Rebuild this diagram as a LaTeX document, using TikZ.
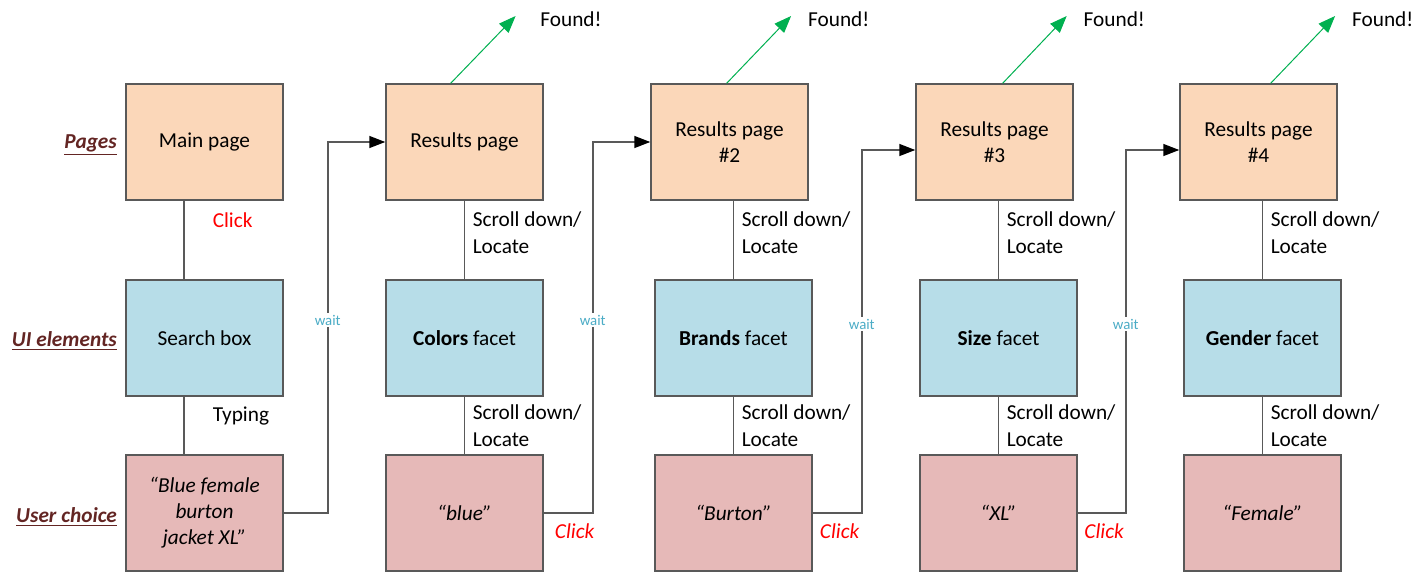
\documentclass[tikz,border=0pt]{standalone}
\usepackage{fontspec}
\setmainfont{Carlito}
\usetikzlibrary{arrows.meta,positioning}

\definecolor{pagefill}{HTML}{FBD7B9}
\definecolor{uifill}{HTML}{B7DDE8}
\definecolor{choicefill}{HTML}{E6B9B8}
\definecolor{rowcolor}{HTML}{632523}
\definecolor{waitblue}{HTML}{4BACC6}
\definecolor{foundgreen}{HTML}{00B050}
\definecolor{linegray}{HTML}{595959}

\newcommand{\boxfont}{\fontsize{10.65}{13}\selectfont}

\tikzset{
  box/.style={draw=linegray, line width=0.75pt, minimum width=78.5pt, minimum height=58pt,
    inner sep=0pt, align=center, font=\boxfont},
  page/.style={box, fill=pagefill},
  ui/.style={box, fill=uifill},
  choice/.style={box, fill=choicefill, font=\boxfont\itshape},
  rowname/.style={inner sep=0pt, text=rowcolor, font=\boxfont\bfseries\itshape},
  link/.style={draw=linegray, line width=0.75pt},
  next/.style={link, -{Triangle[length=8pt,width=6pt,color=black]}},
  steptext/.style={inner sep=0pt, align=left, font=\fontsize{10.65}{13.5}\selectfont},
  clicktext/.style={inner sep=0pt, text=red, font=\boxfont},
  waittext/.style={fill=white, inner sep=1pt, text=waitblue, font=\fontsize{7.4}{9}\selectfont},
  foundtext/.style={anchor=west, inner sep=0pt, font=\boxfont},
  found/.style={draw=foundgreen, line width=0.5pt, -{Triangle[length=8.5pt,width=6.5pt]}}
}

\begin{document}
\begin{tikzpicture}[x=0.5pt, y=-0.5pt]
  \useasboundingbox (0,0) rectangle (1425,573);

  % pages
  \node[page] (main) at (204.5,142) {Main page};
  \node[page] (rp1) at (464.5,142) {Results page};
  \node[page] (rp2) at (729.5,142) {Results page\\\#2};
  \node[page] (rp3) at (994.5,142) {Results page\\\#3};
  \node[page] (rp4) at (1258.5,142) {Results page\\\#4};

  % ui elements
  \node[ui] (search) at (204.5,338) {Search box};
  \node[ui] (colors) at (464.5,338) {\textbf{Colors} facet};
  \node[ui] (brands) at (733.5,338) {\textbf{Brands} facet};
  \node[ui] (size) at (998.5,338) {\textbf{Size} facet};
  \node[ui] (gender) at (1262.5,338) {\textbf{Gender} facet};

  % user choices
  \node[choice] (query) at (204.5,513) {“Blue female\\burton\\jacket XL”};
  \node[choice] (blue) at (464.5,513) {“blue”};
  \node[choice] (burton) at (733.5,513) {“Burton”};
  \node[choice] (xl) at (998.5,513) {“XL”};
  \node[choice] (female) at (1262.5,513) {“Female”};

  % row names
  \node[rowname, left=4pt of main, yshift=-1.5pt] (pages) {\underline{Pages}};
  \node[rowname, left=4pt of search, yshift=-1.5pt] (elements) {\underline{UI elements}};
  \node[rowname, left=4pt of query, yshift=-2pt] (choices) {\underline{User choice}};

  % found
  \node[foundtext] (found1) at (540,19) {Found!};
  \node[foundtext] (found2) at (807.7,19) {Found!};
  \node[foundtext] (found3) at (1083.3,19) {Found!};
  \node[foundtext] (found4) at (1351.7,19) {Found!};

  \draw[found] ([xshift=-6.9pt]rp1.north) -- ([xshift=-12.2pt,yshift=1.5pt]found1.west);
  \draw[found] ([xshift=-1.4pt]rp2.north) -- ([xshift=-8.3pt,yshift=1.5pt]found2.west);
  \draw[found] ([xshift=4.1pt]rp3.north) -- ([xshift=-8.3pt,yshift=1.5pt]found3.west);
  \draw[found] ([xshift=6.1pt]rp4.north) -- ([xshift=-8.3pt,yshift=1.5pt]found4.west);

  % first column
  \draw[link] ([xshift=-10.25pt]main.south) -- node[clicktext, pos=0.25, right=14pt] {Click} ([xshift=-10.25pt]search.north);
  \draw[link] ([xshift=-10.25pt]search.south) -- node[steptext, pos=0.34, right=14pt] {Typing} ([xshift=-10.25pt]query.north);

  % scroll down / locate
  \draw[link] (rp1.south) -- node[steptext, pos=0.41, right=3.75pt] {Scroll down/\\Locate} (colors.north);
  \draw[link] (colors.south) -- node[steptext, pos=0.5, right=3.75pt] {Scroll down/\\Locate} (blue.north);
  \draw[link] (brands.north |- rp2.south) -- node[steptext, pos=0.41, right=3.75pt] {Scroll down/\\Locate} (brands.north);
  \draw[link] (brands.south) -- node[steptext, pos=0.5, right=3.75pt] {Scroll down/\\Locate} (burton.north);
  \draw[link] (size.north |- rp3.south) -- node[steptext, pos=0.41, right=3.75pt] {Scroll down/\\Locate} (size.north);
  \draw[link] (size.south) -- node[steptext, pos=0.5, right=3.75pt] {Scroll down/\\Locate} (xl.north);
  \draw[link] (gender.north |- rp4.south) -- node[steptext, pos=0.41, right=3.75pt] {Scroll down/\\Locate} (gender.north);
  \draw[link] (gender.south) -- node[steptext, pos=0.5, right=3.75pt] {Scroll down/\\Locate} (female.north);

  % wait for next page
  \draw[next] (query.east) -- ++(22pt,0) |- node[waittext, pos=0.26] {wait} (rp1.west);
  \draw[next] (blue.east) -- node[clicktext, pos=0.63, below=5pt, font=\boxfont\itshape] {Click} ++(24.5pt,0)
    |- node[waittext, pos=0.26] {wait} (rp2.west);
  \draw[next] (burton.east) -- node[clicktext, pos=0.55, below=5pt, font=\boxfont\itshape] {Click} ++(24.5pt,0)
    |- node[waittext, pos=0.26] {wait} ([yshift=-4pt]rp3.west);
  \draw[next] (xl.east) -- node[clicktext, pos=0.55, below=5pt, font=\boxfont\itshape] {Click} ++(24pt,0)
    |- node[waittext, pos=0.26] {wait} ([yshift=-4pt]rp4.west);
\end{tikzpicture}
\end{document}
